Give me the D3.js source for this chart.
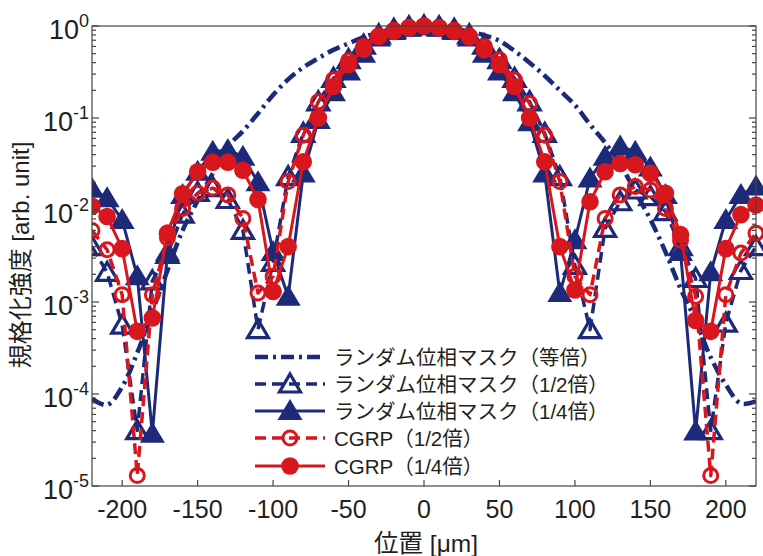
<!DOCTYPE html>
<html><head><meta charset="utf-8">
<script src="https://cdn.jsdelivr.net/npm/d3@7"></script>
<style>body{margin:0;background:#fff;} svg{display:block;}</style>
</head><body><svg id="chart" width="763" height="556"></svg>
<script>
// ---- data (µm positions and normalized intensities) ----
const positions = [-220,-210,-200,-190,-180,-170,-160,-150,-140,-130,-120,-110,-100,-90,-80,-70,-60,-50,-40,-30,-20,-10,0,
  10,20,30,40,50,60,70,80,90,100,110,120,130,140,150,160,170,180,190,200,210,220];
const randomFull = [8.9e-5,7.6e-5,1.2e-4,2.8e-4,7.9e-4,0.0022,0.006,0.0126,0.025,0.049,0.072,0.112,0.178,0.263,0.355,0.447,0.55,0.646,0.759,0.851,0.933,0.977,1.0,
  0.977,0.933,0.871,0.794,0.69,0.537,0.398,0.288,0.2,0.138,0.085,0.054,0.0316,0.0158,0.0079,0.0035,0.0014,6.3e-4,2.5e-4,1.26e-4,7.9e-5,8.3e-5];
const randomHalf = [0.004,0.0021,0.00056,4e-5,0.0017,0.0033,0.009,0.0155,0.0175,0.013,0.006,0.0005,0.0027,0.023,0.068,0.15,0.27,0.43,0.62,0.8,0.92,0.98,1.0,
  0.98,0.92,0.8,0.62,0.43,0.27,0.15,0.068,0.023,0.0025,0.0005,0.0063,0.0123,0.0165,0.014,0.0096,0.004,0.0018,4e-5,0.00059,0.0022,0.004];
const randomQuarter = [0.017,0.0134,0.0078,0.0019,3.7e-5,0.0035,0.0146,0.026,0.043,0.045,0.038,0.02,0.0035,0.00114,0.025,0.095,0.19,0.32,0.5,0.75,0.88,0.96,1.0,
  0.96,0.88,0.75,0.5,0.32,0.19,0.09,0.025,0.00125,0.0047,0.022,0.038,0.049,0.043,0.029,0.0146,0.0035,3.9e-5,0.0021,0.0078,0.0146,0.018];
const cgrpHalf = [0.006,0.0037,0.0012,1.3e-5,0.0012,0.005,0.0104,0.0152,0.0173,0.0146,0.0081,0.00125,0.0019,0.0204,0.065,0.15,0.26,0.42,0.6,0.78,0.9,0.97,1.0,
  0.97,0.9,0.78,0.6,0.43,0.259,0.144,0.065,0.0204,0.0019,0.0012,0.0081,0.0146,0.018,0.0165,0.0104,0.0047,0.00115,1.3e-5,0.0012,0.0034,0.0056];
const cgrpQuarter = [0.011,0.0085,0.0038,0.00048,0.00067,0.0056,0.015,0.026,0.033,0.033,0.027,0.013,0.0013,0.004,0.0335,0.10,0.22,0.38,0.56,0.77,0.87,0.95,1.0,
  0.95,0.87,0.76,0.55,0.38,0.22,0.10,0.0335,0.004,0.00135,0.0123,0.026,0.032,0.031,0.025,0.0152,0.0054,0.00063,0.00048,0.0038,0.0089,0.0113];

const xTicks = [-200,-150,-100,-50,0,50,100,150,200];
const yTickExps = [0,-1,-2,-3,-4,-5];
const seriesNames = ["ランダム位相マスク（等倍）","ランダム位相マスク（1/2倍）","ランダム位相マスク（1/4倍）","CGRP（1/2倍）","CGRP（1/4倍）"];
const xLabel = "位置 [μm]";
const yLabel = "規格化強度 [arb. unit]";

// ---- styles ----
const NAVY = "#1c2a79", RED = "#d8161d", INK = "#231f20", FRAME = "#4a4142";
const styles = [
  {color: NAVY, width: 4.5, dash: "13,5,3,5", marker: null},
  {color: NAVY, width: 3.5, dash: "11,6", marker: "openTri"},
  {color: NAVY, width: 3, dash: null, marker: "tri"},
  {color: RED, width: 3.5, dash: "11,6", marker: "openCirc"},
  {color: RED, width: 3, dash: null, marker: "circ"}
];
const allSeries = [randomFull, randomHalf, randomQuarter, cgrpHalf, cgrpQuarter];

const svg = d3.select("#chart");
const L = 92, R = 756, T = 26, B = 486;
const x = d3.scaleLinear().domain([-220, 220]).range([L, R]);
const y = d3.scaleLog().domain([1e-5, 1]).range([B, T]);

const defs = svg.append("defs");
defs.append("clipPath").attr("id","plotClip").append("rect").attr("x",L).attr("y",T-1).attr("width",R-L).attr("height",B-T+2);
defs.append("clipPath").attr("id","markClip").append("rect").attr("x",L).attr("y",0).attr("width",763-L).attr("height",556);

function drawMarker(g, type, color) {
  if (type === "tri") g.append("path").attr("d","M0,-12L12.5,9L-12.5,9Z").attr("fill",color);
  else if (type === "openTri") g.append("path").attr("d","M0,-10L10.5,8L-10.5,8Z").attr("fill","none").attr("stroke",color).attr("stroke-width",3.2).attr("stroke-linejoin","miter");
  else if (type === "circ") g.append("circle").attr("r",8.8).attr("fill",color);
  else if (type === "openCirc") g.append("circle").attr("r",7).attr("fill","none").attr("stroke",color).attr("stroke-width",3);
}

const line = d3.line().x(d => x(d[0])).y(d => y(d[1]));
const lineSmooth = d3.line().x(d => x(d[0])).y(d => y(d[1])).curve(d3.curveCatmullRom);

allSeries.forEach((vals, i) => {
  const st = styles[i];
  const pts = positions.map((p, k) => [p, vals[k]]);
  svg.append("path").attr("clip-path","url(#plotClip)")
    .attr("d", i === 0 ? lineSmooth(pts) : line(pts))
    .attr("fill","none").attr("stroke",st.color).attr("stroke-width",st.width)
    .attr("stroke-dasharray", st.dash).attr("stroke-linejoin","round");
  if (st.marker) {
    const mg = svg.append("g").attr("clip-path","url(#markClip)");
    pts.forEach(d => {
      const g = mg.append("g").attr("transform",`translate(${x(d[0])},${y(d[1])})`);
      drawMarker(g, st.marker, st.color);
    });
  }
});

// ---- frame and ticks ----
svg.append("rect").attr("x",L).attr("y",T).attr("width",R-L).attr("height",B-T)
  .attr("fill","none").attr("stroke",FRAME).attr("stroke-width",1.2);
const tg = svg.append("g").attr("stroke",FRAME).attr("stroke-width",1.2);
xTicks.forEach(t => tg.append("line").attr("x1",x(t)).attr("x2",x(t)).attr("y1",B).attr("y2",B-6));
yTickExps.forEach(e => {
  const v = Math.pow(10, e);
  [[L, 1],[R, -1]].forEach(([xx, s]) => {
    tg.append("line").attr("x1",xx).attr("x2",xx+s*7).attr("y1",y(v)).attr("y2",y(v));
    if (e < 0) for (let m = 2; m <= 9; m++) {
      const vm = v*m; if (vm >= 1) continue;
      tg.append("line").attr("x1",xx).attr("x2",xx+s*4).attr("y1",y(vm)).attr("y2",y(vm));
    }
  });
});

const FONT = "'Liberation Sans', Arial, 'Noto Sans CJK JP', sans-serif";
xTicks.forEach(t => svg.append("text").attr("x",x(t)).attr("y",518).attr("text-anchor","middle")
  .attr("font-family",FONT).attr("font-size",25).attr("fill",INK).text(t));
yTickExps.forEach(e => {
  const t = svg.append("text").attr("x",89).attr("y",y(Math.pow(10,e))+13).attr("text-anchor","end")
    .attr("font-family",FONT).attr("font-size",27).attr("fill",INK);
  t.append("tspan").text("10");
  t.append("tspan").attr("dy",-12).attr("font-size",18).text(String(e));
});

svg.append("text").attr("x",426).attr("y",552).attr("text-anchor","middle")
  .attr("font-family",FONT).attr("font-size",24.5).attr("fill",INK).text(xLabel);
svg.append("text").attr("transform","translate(29,255) rotate(-90)").attr("text-anchor","middle")
  .attr("font-family",FONT).attr("font-size",24).attr("fill",INK).text(yLabel);

// ---- legend ----
const legY = [357, 384, 411, 438, 466];
seriesNames.forEach((name, i) => {
  const st = styles[i];
  const ly = legY[i];
  svg.append("line").attr("x1",255).attr("x2",325).attr("y1",ly).attr("y2",ly)
    .attr("stroke",st.color).attr("stroke-width",st.width).attr("stroke-dasharray",st.dash);
  if (st.marker) drawMarker(svg.append("g").attr("transform",`translate(290,${ly})`), st.marker, st.color);
  svg.append("text").attr("x",334).attr("y",ly+8).attr("font-family",FONT).attr("font-size",20.5)
    .attr("fill",INK).text(name);
});
</script></body></html>
